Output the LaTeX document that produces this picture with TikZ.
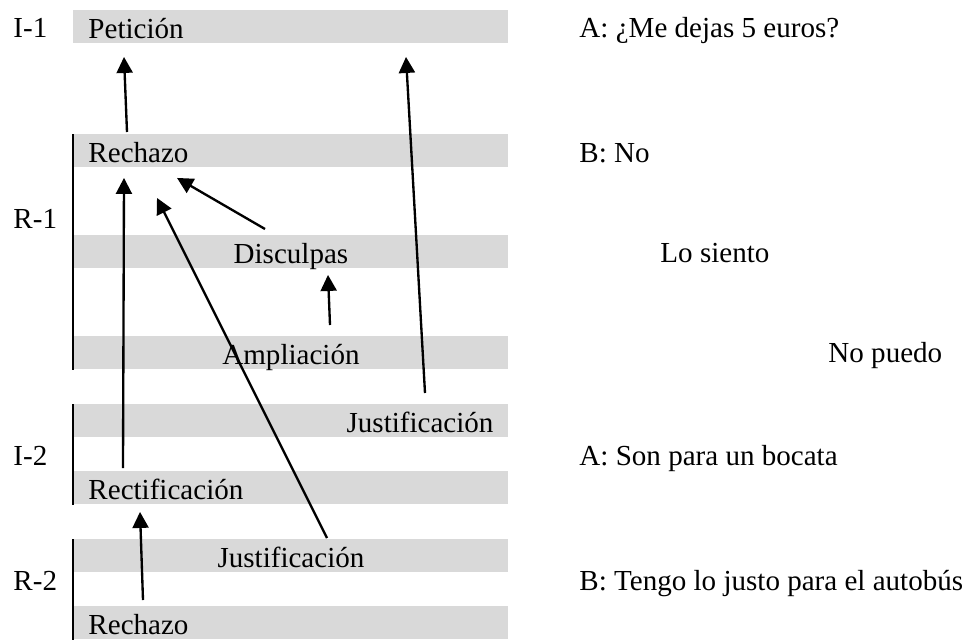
\documentclass[tikz,border=0pt]{standalone}
\usepackage{fontspec}
\setmainfont{Liberation Serif}
\usetikzlibrary{arrows.meta}

\tikzset{
  bar/.style={rectangle, fill=black!15, anchor=north west,
    minimum width=6.525cm, minimum height=0.495cm, text width=6.075cm,
    inner xsep=0.225cm, inner ysep=0pt, text height=0.415cm, text depth=0.08cm},
  lbl/.style={anchor=base west, inner sep=0pt},
  arr/.style={-{Triangle[length=0.24cm,width=0.24cm]}, line width=1pt},
  side/.style={line width=0.9pt}
}

\begin{document}
\begin{tikzpicture}[x=0.015cm, y=-0.015cm, font=\fontsize{12.4}{15}\selectfont]

\useasboundingbox (0,0) rectangle (975,639);

\node[bar, align=left](pet) at (73,10){Petición};
\node[bar, align=left](rech1) at (73,134){Rechazo};
\node[bar, align=center](disc) at (73,235){Disculpas};
\node[bar, align=center](ampl) at (73,336){Ampliación};
\node[bar, align=right](just1) at (73,404){Justificación};
\node[bar, align=left](rect) at (73,471){Rectificación};
\node[bar, align=center](just2) at (73,539){Justificación};
\node[bar, align=left](rech2) at (73,606){Rechazo};

\node[lbl](i1) at (13,37.7){I-1};
\node[lbl](r1) at (13,228){R-1};
\node[lbl](i2) at (13,465){I-2};
\node[lbl](r2) at (13,590){R-2};

\node[lbl](ta) at (579,37.7){A: ¿Me dejas 5 euros?};
\node[lbl](tb) at (579,162){B: No};
\node[lbl](tc) at (660,262){Lo siento};
\node[lbl](td) at (828,362){No puedo};
\node[lbl](te) at (579,465){A: Son para un bocata};
\node[lbl](tf) at (579,590){B: Tengo lo justo para el autobús};

\draw[side] (rech1.north west) -- (ampl.south west);
\draw[side] (just1.north west) -- (rect.south west);
\draw[side] (just2.north west) -- (rech2.south west);

\draw[arr] ([shift={(54,-2)}]rech1.north west) -- ([shift={(51,13)}]pet.south west);
\draw[arr] ([shift={(352,-11)}]just1.north west) -- ([shift={(333,13)}]pet.south west);
\draw[arr] ([shift={(50,-3)}]rect.north west) -- ([shift={(51,10)}]rech1.south west);
\draw[arr] ([shift={(254,-1)}]just2.north west) -- ([shift={(84,30)}]rech1.south west);
\draw[arr] ([shift={(192,-6)}]disc.north west) -- ([shift={(104,10)}]rech1.south west);
\draw[arr] ([shift={(257,-11)}]ampl.north west) -- ([shift={(255,6)}]disc.south west);
\draw[arr] ([shift={(70,-6)}]rech2.north west) -- ([shift={(67,7)}]rect.south west);

\end{tikzpicture}
\end{document}
